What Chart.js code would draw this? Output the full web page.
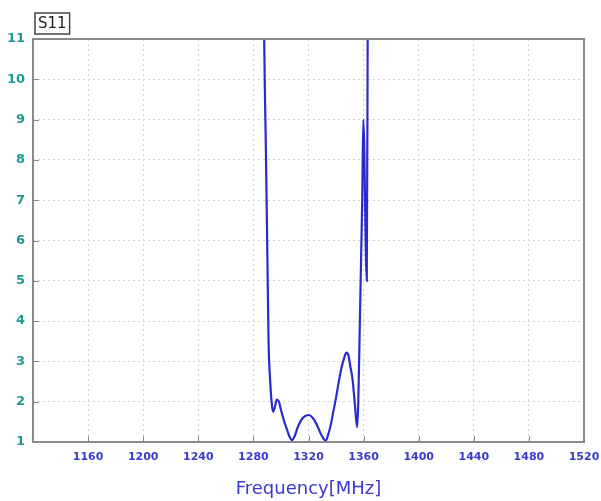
<!DOCTYPE html>
<html>
<head>
<meta charset="utf-8">
<script src="https://cdn.jsdelivr.net/npm/chart.js@4"></script>
<style>
  html, body { margin: 0; padding: 0; background: #fff; }
  #wrap { width: 601px; height: 501px; }
</style>
</head>
<body>
<div id="wrap"><canvas id="chartCanva"></canvas></div>
<script>
// S11 curve (MHz, value)
var freqs = [1287.6, 1288.3, 1289.0, 1290.0, 1291.0, 1292.2, 1293.5, 1294.3, 1295.5, 1297.0,
             1298.5, 1300, 1302, 1304, 1306, 1308, 1310, 1312, 1314, 1316,
             1318, 1320.5, 1323, 1325, 1327, 1329, 1331, 1332.5, 1334, 1336,
             1338, 1340, 1342, 1344, 1346, 1347.5, 1349, 1350.5, 1352, 1353.5,
             1355.3, 1357.6, 1359.0, 1359.8, 1362.3, 1363.0];
var s11 = [11.6, 9.8, 8.4, 6.0, 3.5, 2.5, 1.9, 1.75, 1.85, 2.05,
           2.0, 1.8, 1.55, 1.35, 1.15, 1.05, 1.15, 1.35, 1.5, 1.6,
           1.65, 1.67, 1.6, 1.5, 1.35, 1.2, 1.08, 1.03, 1.15, 1.4,
           1.75, 2.1, 2.5, 2.85, 3.1, 3.22, 3.15, 2.85, 2.55, 2.0,
           1.37, 4.5, 7.0, 9.0, 5.0, 11.6];
var xTicks = [1120, 1160, 1200, 1240, 1280, 1320, 1360, 1400, 1440, 1480, 1520];
var yTicks = [1, 2, 3, 4, 5, 6, 7, 8, 9, 10, 11];
var chartTitle = 'S11';
var xLabel = 'Frequency[MHz]';

var points = freqs.map(function (f, i) { return { x: f, y: s11[i] }; });

// frame, inward tick marks and the S11 box
var framePlugin = {
  id: 'frame',
  afterDraw: function (chart) {
    var ctx = chart.ctx;
    var a = chart.chartArea;
    var xs = chart.scales.x, ys = chart.scales.y;
    ctx.save();
    ctx.strokeStyle = '#8a8a8a';
    ctx.lineWidth = 1;
    ctx.beginPath();
    xTicks.forEach(function (v) {
      var px = Math.round(xs.getPixelForValue(v)) + 0.5;
      ctx.moveTo(px, a.bottom); ctx.lineTo(px, a.bottom - 6);
    });
    yTicks.forEach(function (v) {
      var py = Math.round(ys.getPixelForValue(v)) + 0.5;
      ctx.moveTo(a.left, py); ctx.lineTo(a.left + 6, py);
    });
    ctx.stroke();
    ctx.lineWidth = 2;
    ctx.strokeStyle = '#8a8a8a';
    ctx.strokeRect(a.left, a.top, a.right - a.left, a.bottom - a.top);
    // title box
    ctx.font = '15px "DejaVu Sans", sans-serif';
    var w = ctx.measureText(chartTitle).width + 6;
    ctx.fillStyle = '#fff';
    ctx.fillRect(a.left + 2, 13, w, 21);
    ctx.lineWidth = 1.5;
    ctx.strokeStyle = '#444';
    ctx.strokeRect(a.left + 2, 13, w, 21);
    ctx.fillStyle = '#222';
    ctx.textBaseline = 'middle';
    ctx.fillText(chartTitle, a.left + 5, 24);
    ctx.restore();
  }
};

var config = {
  type: 'line',
  data: {
    datasets: [{
      label: chartTitle,
      data: points,
      borderColor: '#2b2bcc',
      borderWidth: 2.2,
      pointRadius: 0,
      fill: false,
      cubicInterpolationMode: 'monotone'
    }]
  },
  options: {
    responsive: false,
    animation: false,
    layout: { padding: { left: 0, top: 39, right: 17, bottom: 0 } },
    plugins: {
      legend: { display: false },
      tooltip: { enabled: false },
      title: { display: false }
    },
    scales: {
      x: {
        type: 'linear',
        min: 1120,
        max: 1520,
        afterBuildTicks: function (scale) {
          scale.ticks = xTicks.map(function (v) { return { value: v }; });
        },
        afterFit: function (scale) {
          scale.height = 59;
          scale.paddingLeft = 0;
          scale.paddingRight = 0;
        },
        grid: {
          color: '#d2d2d2',
          drawTicks: false
        },
        border: { display: false, dash: [2, 3] },
        ticks: {
          color: '#3a3acc',
          padding: 9,
          font: { family: '"DejaVu Sans", sans-serif', size: 11, weight: 'bold' },
          callback: function (v) { return v === 1120 ? '' : v; }
        },
        title: {
          display: true,
          text: xLabel,
          color: '#3a3acc',
          padding: { top: 0, bottom: 1 },
          font: { family: '"DejaVu Sans", sans-serif', size: 18 }
        }
      },
      y: {
        type: 'linear',
        min: 1,
        max: 11,
        afterBuildTicks: function (scale) {
          scale.ticks = yTicks.map(function (v) { return { value: v }; });
        },
        afterFit: function (scale) { scale.width = 33; },
        grid: {
          color: '#d2d2d2',
          drawTicks: false
        },
        border: { display: false, dash: [2, 3] },
        ticks: {
          color: '#1f9a92',
          padding: 8,
          font: { family: '"DejaVu Sans", sans-serif', size: 13, weight: 'bold' }
        }
      }
    }
  },
  plugins: [framePlugin]
};

var cv = document.getElementById('chartCanva');
cv.width = 601;
cv.height = 501;
var myChart = new Chart(cv, config);
</script>
</body>
</html>
